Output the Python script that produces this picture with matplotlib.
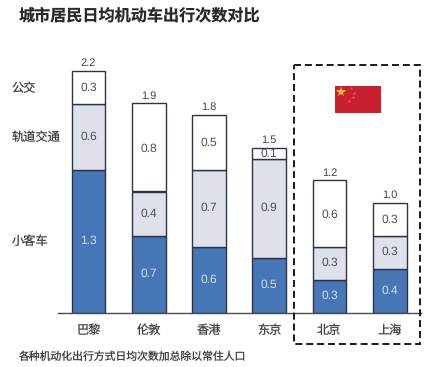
import matplotlib
matplotlib.use("Agg")
import matplotlib.pyplot as plt
from matplotlib.patches import Rectangle
from matplotlib.transforms import Affine2D

plt.rcParams["text.hinting"] = "no_hinting"
plt.rcParams["text.hinting_factor"] = 1

cities = ["巴黎", "伦敦", "香港", "东京", "北京", "上海"]
car = [1.3, 0.7, 0.6, 0.5, 0.3, 0.4]
rail = [0.6, 0.4, 0.7, 0.9, 0.3, 0.3]
bus = [0.3, 0.8, 0.5, 0.1, 0.6, 0.3]
totals = ["2.2", "1.9", "1.8", "1.5", "1.2", "1.0"]
modes = ["小客车", "轨道交通", "公交"]
mode_y = [241, 137, 88]
title = "城市居民日均机动车出行次数对比"
note = "各种机动化出行方式日均次数加总除以常住人口"

CJK = ["Noto Sans CJK SC", "DejaVu Sans"]
LAT = ["Liberation Sans", "DejaVu Sans"]
W, H = 428, 367
fig = plt.figure(figsize=(W / 100, H / 100), dpi=100, facecolor="white")
px = Affine2D().scale(1, -1).translate(0, H)  # image pixels to display

left, right, base, top = 58, 421, 312.5, 48.5
ax = fig.add_axes([left / W, 1 - base / H, (right - left) / W, (base - top) / H])
ax.set_xlim(-0.507, 5.52)
ax.set_ylim(0, 2.4)
ax.patch.set_alpha(0)
for s in ("top", "left", "right"):
    ax.spines[s].set_visible(False)
ax.spines["bottom"].set_color("#4a4a4a")
ax.spines["bottom"].set_linewidth(1.0)
ax.set_yticks([])
ax.tick_params(axis="x", length=0, pad=8)
x = list(range(len(cities)))
ax.set_xticks(x)
ax.set_xticklabels(cities, family=CJK, fontsize=8.8, color="#444444")

edge = "#2a3444"
bottom_rail = car
bottom_bus = [a + b for a, b in zip(car, rail)]
ax.bar(x, car, 0.56, color="#4676B6", edgecolor=edge, linewidth=1)
ax.bar(x, rail, 0.56, bottom=bottom_rail, color="#DEE1EA", edgecolor=edge, linewidth=1)
ax.bar(x, bus, 0.56, bottom=bottom_bus, color="white", edgecolor=edge, linewidth=1)

for i in x:
    ax.text(i, car[i] / 2, f"{car[i]:.1f}", ha="center", va="center", family=LAT,
            fontsize=8.6, color="#cfe0f5")
    ax.text(i, bottom_rail[i] + rail[i] / 2, f"{rail[i]:.1f}", ha="center", va="center",
            family=LAT, fontsize=8.6, color="#4a4f5a")
    ax.text(i, bottom_bus[i] + bus[i] / 2, f"{bus[i]:.1f}", ha="center", va="center_baseline",
            family=LAT, fontsize=8.6, color="#4a4f5a")
    ax.annotate(totals[i], (i, bottom_bus[i] + bus[i]), xytext=(0, 1.6),
                textcoords="offset points", ha="center", va="bottom", family=LAT,
                fontsize=8.2, color="#444444")

fig.text(19 / W, 1 - 16 / H, title, family=CJK, fontsize=11.6, fontweight="bold",
         color="#2a2a2a", va="center", ha="left")
fig.text(19 / W, 1 - 357 / H, note, family=CJK, fontsize=7.8, color="#3d3d3d",
         va="center", ha="left")
for m, y in zip(modes, mode_y):
    fig.text(12 / W, 1 - y / H, m, family=CJK, fontsize=8.8, color="#444444",
             va="center", ha="left")

# dashed highlight box around the Chinese cities
fig.add_artist(Rectangle((294.3, 65), 126, 279.3, transform=px, fill=False,
                         edgecolor="#1a1a1a", linewidth=1.4, linestyle=(0, (3.6, 2.0))))
# flag
fig.add_artist(Rectangle((335, 86.3), 45.7, 27, transform=px, facecolor="#C8202F",
                         edgecolor="none"))
stars = [(341, 92, 8.0, "#F2B632"), (351, 87.5, 2.6, "#E0603F"), (354, 92.5, 2.6, "#E0603F"),
         (353, 97, 2.6, "#E0603F"), (349, 101, 2.6, "#E0603F")]
for sx, sy, sz, col in stars:
    fig.add_artist(plt.Line2D([sx], [sy], transform=px, marker="*", markersize=sz,
                              color=col, markeredgewidth=0, linestyle="none"))

fig.savefig("out.png", dpi=100)
